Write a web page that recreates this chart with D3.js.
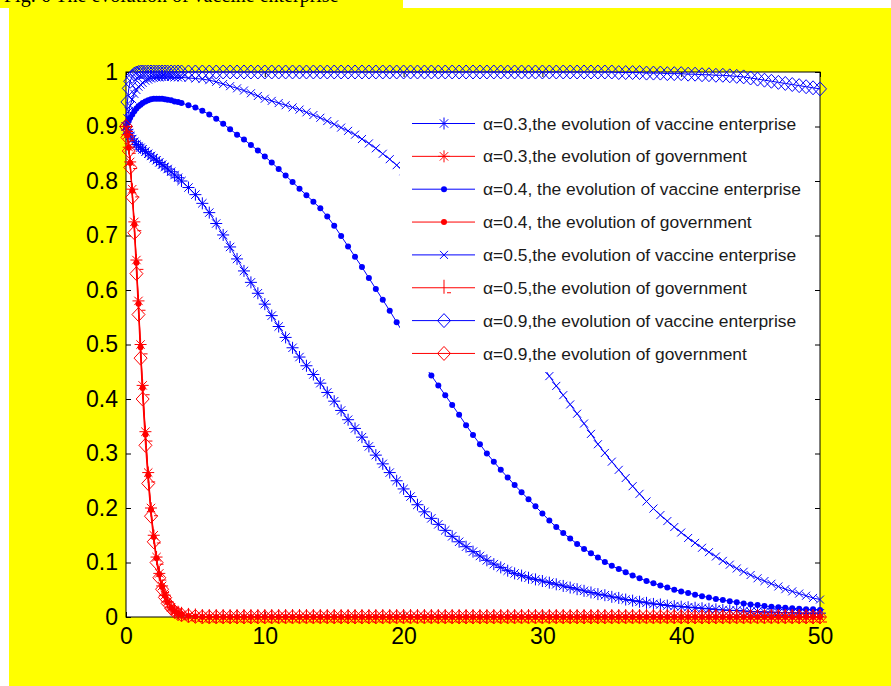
<!DOCTYPE html>
<html>
<head>
<meta charset="utf-8">
<script src="https://cdn.jsdelivr.net/npm/d3@7"></script>
<style>
  body { margin: 0; background: #fff; }
  svg { display: block; }
</style>
</head>
<body>
<svg id="chart" width="891" height="686"></svg>
<script>
// time steps of the solver output (shared by all series)
const t = [0, 0.1, 0.2, 0.3, 0.45, 0.6, 0.75, 0.9, 1.05, 1.2, 1.4, 1.6, 1.8, 2, 2.2, 2.4, 2.6, 2.8, 3, 3.25, 3.5, 3.75, 4,
  4.5, 5, 5.5, 6, 6.5, 7, 7.5, 8, 8.5, 9, 9.5, 10,
  10.5, 11, 11.5, 12, 12.5, 13, 13.5, 14, 14.5, 15, 15.5, 16, 16.5, 17, 17.5, 18, 18.5, 19, 19.5, 20,
  20.5, 21, 21.5, 22, 22.5, 23, 23.5, 24, 24.5, 25, 25.5, 26, 26.5, 27, 27.5, 28, 28.5, 29, 29.5, 30,
  30.5, 31, 31.5, 32, 32.5, 33, 33.5, 34, 34.5, 35, 35.5, 36, 36.5, 37, 37.5, 38, 38.5, 39, 39.5, 40,
  40.5, 41, 41.5, 42, 42.5, 43, 43.5, 44, 44.5, 45, 45.5, 46, 46.5, 47, 47.5, 48, 48.5, 49, 49.5, 50];

// vaccine enterprise, alpha = 0.3
const vac03 = [0.9, 0.894, 0.888, 0.883, 0.877, 0.872, 0.867, 0.864, 0.861, 0.858, 0.854, 0.85, 0.846, 0.842, 0.838, 0.834, 0.83, 0.826, 0.822, 0.817, 0.811, 0.806, 0.8,
  0.788, 0.775, 0.759, 0.742, 0.722, 0.701, 0.679, 0.657, 0.635, 0.614, 0.594, 0.574,
  0.553, 0.533, 0.513, 0.494, 0.477, 0.461, 0.445, 0.429, 0.412, 0.396, 0.379, 0.362, 0.346, 0.33, 0.313, 0.297, 0.281, 0.265, 0.25, 0.235,
  0.221, 0.206, 0.193, 0.181, 0.17, 0.159, 0.148, 0.138, 0.129, 0.12, 0.112, 0.104, 0.097, 0.091, 0.085, 0.08, 0.076, 0.072, 0.069, 0.066,
  0.063, 0.06, 0.057, 0.054, 0.051, 0.048, 0.045, 0.042, 0.04, 0.037, 0.035, 0.032, 0.03, 0.028, 0.026, 0.024, 0.023, 0.021, 0.02, 0.019,
  0.018, 0.017, 0.016, 0.015, 0.014, 0.013, 0.012, 0.012, 0.011, 0.01, 0.01, 0.009, 0.009, 0.008, 0.008, 0.008, 0.007, 0.007, 0.007, 0.007];

// government, alpha = 0.3
const gov03 = [0.9, 0.885, 0.862, 0.835, 0.785, 0.725, 0.655, 0.58, 0.5, 0.425, 0.34, 0.265, 0.2, 0.15, 0.11, 0.08, 0.057, 0.04, 0.028, 0.018, 0.011, 0.007, 0.004,
  0.002, 0.001, 0.001, 0, 0, 0, 0, 0, 0, 0, 0, 0,
  0, 0, 0, 0, 0, 0, 0, 0, 0, 0, 0, 0, 0, 0, 0, 0, 0, 0, 0, 0,
  0, 0, 0, 0, 0, 0, 0, 0, 0, 0, 0, 0, 0, 0, 0, 0, 0, 0, 0, 0,
  0, 0, 0, 0, 0, 0, 0, 0, 0, 0, 0, 0, 0, 0, 0, 0, 0, 0, 0, 0,
  0, 0, 0, 0, 0, 0, 0, 0, 0, 0, 0, 0, 0, 0, 0, 0, 0, 0, 0, 0];

// vaccine enterprise, alpha = 0.4
const vac04 = [0.9, 0.906, 0.911, 0.916, 0.922, 0.928, 0.933, 0.937, 0.94, 0.943, 0.946, 0.948, 0.95, 0.951, 0.951, 0.951, 0.951, 0.95, 0.949, 0.948, 0.946, 0.945, 0.943,
  0.939, 0.935, 0.929, 0.922, 0.914, 0.905, 0.895, 0.885, 0.876, 0.866, 0.856, 0.845,
  0.834, 0.822, 0.81, 0.798, 0.786, 0.774, 0.762, 0.75, 0.735, 0.718, 0.699, 0.68, 0.661, 0.642, 0.622, 0.602, 0.582, 0.562, 0.541, 0.52,
  0.5, 0.48, 0.461, 0.443, 0.425, 0.407, 0.389, 0.371, 0.352, 0.334, 0.317, 0.3, 0.285, 0.27, 0.256, 0.242, 0.229, 0.216, 0.203, 0.19,
  0.177, 0.165, 0.154, 0.144, 0.134, 0.125, 0.117, 0.109, 0.101, 0.094, 0.088, 0.082, 0.076, 0.071, 0.066, 0.062, 0.058, 0.054, 0.05, 0.047,
  0.044, 0.041, 0.038, 0.036, 0.033, 0.031, 0.029, 0.027, 0.025, 0.023, 0.022, 0.02, 0.019, 0.018, 0.017, 0.016, 0.015, 0.014, 0.014, 0.013];

// government, alpha = 0.4
const gov04 = [0.9, 0.884, 0.861, 0.833, 0.782, 0.72, 0.65, 0.575, 0.495, 0.42, 0.335, 0.26, 0.197, 0.147, 0.108, 0.078, 0.055, 0.039, 0.027, 0.017, 0.011, 0.007, 0.004,
  0.002, 0.001, 0, 0, 0, 0, 0, 0, 0, 0, 0, 0,
  0, 0, 0, 0, 0, 0, 0, 0, 0, 0, 0, 0, 0, 0, 0, 0, 0, 0, 0, 0,
  0, 0, 0, 0, 0, 0, 0, 0, 0, 0, 0, 0, 0, 0, 0, 0, 0, 0, 0, 0,
  0, 0, 0, 0, 0, 0, 0, 0, 0, 0, 0, 0, 0, 0, 0, 0, 0, 0, 0, 0,
  0, 0, 0, 0, 0, 0, 0, 0, 0, 0, 0, 0, 0, 0, 0, 0, 0, 0, 0, 0];

// vaccine enterprise, alpha = 0.5
const vac05 = [0.9, 0.915, 0.928, 0.938, 0.95, 0.96, 0.967, 0.973, 0.977, 0.98, 0.984, 0.986, 0.988, 0.989, 0.99, 0.99, 0.991, 0.991, 0.991, 0.991, 0.99, 0.99, 0.99,
  0.989, 0.988, 0.987, 0.985, 0.982, 0.978, 0.974, 0.97, 0.966, 0.961, 0.956, 0.951,
  0.947, 0.943, 0.939, 0.935, 0.931, 0.926, 0.921, 0.916, 0.91, 0.904, 0.898, 0.892, 0.885, 0.877, 0.869, 0.86, 0.85, 0.84, 0.829, 0.818,
  0.806, 0.793, 0.78, 0.766, 0.751, 0.736, 0.72, 0.703, 0.686, 0.668, 0.649, 0.63, 0.61, 0.59, 0.569, 0.548, 0.527, 0.505, 0.483, 0.462,
  0.442, 0.424, 0.407, 0.39, 0.373, 0.355, 0.336, 0.317, 0.301, 0.285, 0.27, 0.255, 0.24, 0.226, 0.212, 0.199, 0.187, 0.176, 0.165, 0.155,
  0.145, 0.136, 0.127, 0.119, 0.111, 0.103, 0.096, 0.089, 0.083, 0.077, 0.071, 0.066, 0.061, 0.056, 0.051, 0.047, 0.043, 0.039, 0.035, 0.032];

// government, alpha = 0.5
const gov05 = [0.9, 0.883, 0.86, 0.832, 0.78, 0.718, 0.647, 0.572, 0.492, 0.417, 0.332, 0.257, 0.195, 0.145, 0.106, 0.077, 0.054, 0.038, 0.026, 0.017, 0.01, 0.006, 0.004,
  0.002, 0.001, 0, 0, 0, 0, 0, 0, 0, 0, 0, 0,
  0, 0, 0, 0, 0, 0, 0, 0, 0, 0, 0, 0, 0, 0, 0, 0, 0, 0, 0, 0,
  0, 0, 0, 0, 0, 0, 0, 0, 0, 0, 0, 0, 0, 0, 0, 0, 0, 0, 0, 0,
  0, 0, 0, 0, 0, 0, 0, 0, 0, 0, 0, 0, 0, 0, 0, 0, 0, 0, 0, 0,
  0, 0, 0, 0, 0, 0, 0, 0, 0, 0, 0, 0, 0, 0, 0, 0, 0, 0, 0, 0];

// vaccine enterprise, alpha = 0.9
const vac09 = [0.9, 0.945, 0.97, 0.983, 0.992, 0.996, 0.998, 0.999, 1, 1, 1, 1, 1, 1, 1, 1, 1, 1, 1, 1, 1, 1, 1,
  1, 1, 1, 1, 1, 1, 1, 1, 1, 1, 1, 1,
  1, 1, 1, 1, 1, 1, 1, 1, 1, 1, 1, 1, 1, 1, 1, 1, 1, 1, 1, 1,
  1, 1, 1, 1, 1, 1, 1, 1, 1, 1, 1, 1, 1, 1, 1, 1, 1, 1, 1, 1,
  1, 1, 1, 1, 1, 1, 1, 1, 1, 1, 0.999, 0.999, 0.999, 0.999, 0.998, 0.998, 0.998, 0.997, 0.997, 0.997,
  0.996, 0.996, 0.995, 0.995, 0.994, 0.994, 0.993, 0.992, 0.991, 0.989, 0.987, 0.985, 0.983, 0.981, 0.979, 0.977, 0.975, 0.973, 0.971, 0.969];

// government, alpha = 0.9
const gov09 = [0.9, 0.88, 0.855, 0.825, 0.77, 0.705, 0.63, 0.555, 0.475, 0.4, 0.315, 0.245, 0.185, 0.138, 0.1, 0.072, 0.051, 0.036, 0.025, 0.016, 0.01, 0.006, 0.004,
  0.002, 0.001, 0, 0, 0, 0, 0, 0, 0, 0, 0, 0,
  0, 0, 0, 0, 0, 0, 0, 0, 0, 0, 0, 0, 0, 0, 0, 0, 0, 0, 0, 0,
  0, 0, 0, 0, 0, 0, 0, 0, 0, 0, 0, 0, 0, 0, 0, 0, 0, 0, 0, 0,
  0, 0, 0, 0, 0, 0, 0, 0, 0, 0, 0, 0, 0, 0, 0, 0, 0, 0, 0, 0,
  0, 0, 0, 0, 0, 0, 0, 0, 0, 0, 0, 0, 0, 0, 0, 0, 0, 0, 0, 0];

const legendLabels = [
  "α=0.3,the evolution of vaccine enterprise",
  "α=0.3,the evolution of government",
  "α=0.4, the evolution of vaccine enterprise",
  "α=0.4, the evolution of government",
  "α=0.5,the evolution of vaccine enterprise",
  "α=0.5,the evolution of government",
  "α=0.9,the evolution of vaccine enterprise",
  "α=0.9,the evolution of government"
];

const xTicks = [0, 10, 20, 30, 40, 50];
const xTickLabels = ["0", "10", "20", "30", "40", "50"];
const yTicks = [0, 0.1, 0.2, 0.3, 0.4, 0.5, 0.6, 0.7, 0.8, 0.9, 1];
const yTickLabels = ["0", "0.1", "0.2", "0.3", "0.4", "0.5", "0.6", "0.7", "0.8", "0.9", "1"];

// the line of body text above the figure, mostly cut off by the page edge
const captionText = "Fig. 6 The evolution of vaccine enterprise";

const blue = "#0000ff", red = "#ff0000";

// series in plotting order, same as the legend
const series = [
  { values: vac03, color: blue, marker: "asterisk" },
  { values: gov03, color: red,  marker: "asterisk" },
  { values: vac04, color: blue, marker: "dot" },
  { values: gov04, color: red,  marker: "dot" },
  { values: vac05, color: blue, marker: "cross" },
  { values: gov05, color: red,  marker: "tick" },
  { values: vac09, color: blue, marker: "diamond" },
  { values: gov09, color: red,  marker: "diamond" }
];

const svg = d3.select("#chart");

// page background: white, yellow highlight behind the figure
svg.append("rect").attr("x", 0).attr("y", 0).attr("width", 891).attr("height", 686).attr("fill", "#fff");
svg.append("rect").attr("x", 0).attr("y", 0).attr("width", 403).attr("height", 8).attr("fill", "#ffff00");
svg.append("rect").attr("x", 9).attr("y", 8).attr("width", 882).attr("height", 678).attr("fill", "#ffff00");

svg.append("text")
  .attr("x", 4).attr("y", 1.5)
  .attr("font-family", "Liberation Serif, Times New Roman, serif")
  .attr("font-size", 20)
  .attr("fill", "#000")
  .text(captionText);

const x = d3.scaleLinear().domain([0, 50]).range([126, 820]);
const y = d3.scaleLinear().domain([0, 1]).range([617, 72]);

// axes area
svg.append("rect")
  .attr("x", x(0)).attr("y", y(1))
  .attr("width", x(50) - x(0)).attr("height", y(0) - y(1))
  .attr("fill", "#fff").attr("stroke", "#000").attr("stroke-width", 1);

function styleAxis(g) {
  g.select(".domain").remove();
  g.selectAll(".tick line").attr("stroke", "#000");
  g.selectAll(".tick text").attr("fill", "#000");
  g.attr("font-family", "Liberation Sans, Arial, sans-serif").attr("font-size", 23);
}

svg.append("g")
  .attr("transform", `translate(0,${y(0)})`)
  .call(d3.axisBottom(x).tickValues(xTicks).tickFormat((d, i) => xTickLabels[i])
    .tickSizeInner(-5).tickSizeOuter(0).tickPadding(11))
  .call(styleAxis);

svg.append("g")
  .attr("transform", `translate(0,${y(1)})`)
  .call(d3.axisTop(x).tickValues(xTicks).tickFormat("").tickSizeInner(-5).tickSizeOuter(0))
  .call(styleAxis);

svg.append("g")
  .attr("transform", `translate(${x(0)},0)`)
  .call(d3.axisLeft(y).tickValues(yTicks).tickFormat((d, i) => yTickLabels[i])
    .tickSizeInner(-5).tickSizeOuter(0).tickPadding(8))
  .call(styleAxis);

svg.append("g")
  .attr("transform", `translate(${x(50)},0)`)
  .call(d3.axisRight(y).tickValues(yTicks).tickFormat("").tickSizeInner(-5).tickSizeOuter(0))
  .call(styleAxis);

// marker shapes
const markerPath = {
  asterisk: "M-6,0H6M0,-6V6M-4.2,-4.2L4.2,4.2M-4.2,4.2L4.2,-4.2",
  cross: "M-4,-4L4,4M-4,4L4,-4",
  tick: "M0,-8V6M3,5H7",
  diamond: "M0,-7L6.5,0L0,7L-6.5,0Z"
};

function drawMarker(g, type, color, cx, cy) {
  if (type === "dot") {
    g.append("circle").attr("cx", cx).attr("cy", cy).attr("r", 3).attr("fill", color);
  } else {
    g.append("path")
      .attr("transform", `translate(${cx},${cy})`)
      .attr("d", markerPath[type])
      .attr("fill", "none")
      .attr("stroke", color)
      .attr("stroke-width", 1);
  }
}

const line = d3.line()
  .x((d, i) => x(t[i]))
  .y(d => y(d));

const plot = svg.append("g");
series.forEach(s => {
  const g = plot.append("g");
  g.append("path")
    .datum(s.values)
    .attr("d", line)
    .attr("fill", "none")
    .attr("stroke", s.color)
    .attr("stroke-width", 1);
  s.values.forEach((v, i) => drawMarker(g, s.marker, s.color, x(t[i]), y(v)));
});

// legend (white box, no border)
const legend = svg.append("g");
legend.append("rect")
  .attr("x", 400).attr("y", 103).attr("width", 412).attr("height", 269)
  .attr("fill", "#fff");

series.forEach((s, i) => {
  const ly = 123.5 + i * 32.85;
  legend.append("line")
    .attr("x1", 412).attr("x2", 475).attr("y1", ly).attr("y2", ly)
    .attr("stroke", s.color).attr("stroke-width", 1);
  drawMarker(legend, s.marker, s.color, 444, ly);
  legend.append("text")
    .attr("x", 483).attr("y", ly).attr("dy", "0.35em")
    .attr("font-family", "Liberation Sans, Arial, sans-serif")
    .attr("font-size", 17.4)
    .attr("fill", "#1a1a1a")
    .text(legendLabels[i]);
});
</script>
</body>
</html>
